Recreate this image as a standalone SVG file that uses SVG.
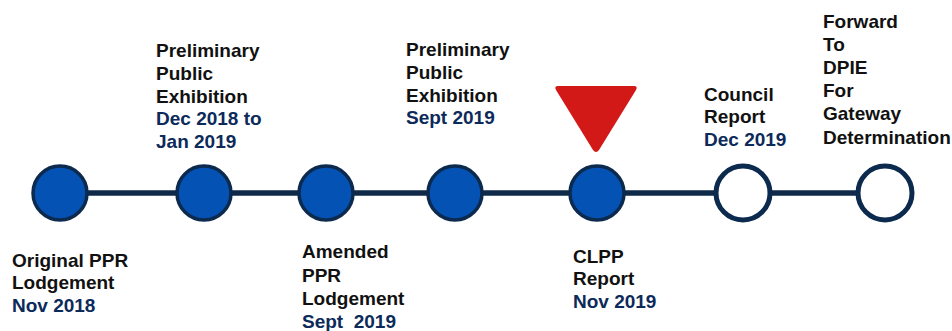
<svg xmlns="http://www.w3.org/2000/svg" width="952" height="331" viewBox="0 0 952 331">
<style>
  .t { font-family: "Liberation Sans", Arial, sans-serif; font-weight: bold; font-size: 19px; fill: #111111; }
  .d { fill: #0c2a5a; }
  .done { fill: #0552b5; stroke: #0c2a4e; stroke-width: 3.5; }
  .todo { fill: #ffffff; stroke: #0c2a4e; stroke-width: 5; }
  .line { stroke: #0f2a48; stroke-width: 5.5; fill: none; }
</style>
<rect width="952" height="331" fill="#ffffff"/>
<g id="connectors">
  <line class="line" x1="60" y1="193" x2="885" y2="193"/>
</g>
<g id="marker">
  <path d="M558,86 L634,86 Q638,86 636,90 L599,150 Q596,154 593,150 L556,90 Q554,86 558,86 Z" fill="#d31818"/>
</g>
<g id="n1">
  <circle class="done" cx="60" cy="193" r="27"/>
  <text class="t" x="12" y="267">Original PPR</text>
  <text class="t" x="12" y="289">Lodgement</text>
  <text class="t d" x="12" y="312">Nov 2018</text>
</g>
<g id="n2">
  <circle class="done" cx="204" cy="193" r="27"/>
  <text class="t" x="156" y="57">Preliminary</text>
  <text class="t" x="156" y="80">Public</text>
  <text class="t" x="156" y="103">Exhibition</text>
  <text class="t d" x="156" y="125">Dec 2018 to</text>
  <text class="t d" x="156" y="148">Jan 2019</text>
</g>
<g id="n3">
  <circle class="done" cx="326" cy="193" r="27"/>
  <text class="t" x="302" y="258">Amended</text>
  <text class="t" x="302" y="282">PPR</text>
  <text class="t" x="302" y="305">Lodgement</text>
  <text class="t d" x="302" y="328" xml:space="preserve">Sept  2019</text>
</g>
<g id="n4">
  <circle class="done" cx="455" cy="193" r="27"/>
  <text class="t" x="406" y="56">Preliminary</text>
  <text class="t" x="406" y="79">Public</text>
  <text class="t" x="406" y="102">Exhibition</text>
  <text class="t d" x="406" y="124">Sept 2019</text>
</g>
<g id="n5">
  <circle class="done" cx="597" cy="193" r="27"/>
  <text class="t" x="573" y="263">CLPP</text>
  <text class="t" x="573" y="285">Report</text>
  <text class="t d" x="573" y="308">Nov 2019</text>
</g>
<g id="n6">
  <circle class="todo" cx="743" cy="193" r="27"/>
  <text class="t" x="704" y="101">Council</text>
  <text class="t" x="704" y="123">Report</text>
  <text class="t d" x="704" y="146">Dec 2019</text>
</g>
<g id="n7">
  <circle class="todo" cx="885" cy="193" r="27"/>
  <text class="t" x="823" y="28">Forward</text>
  <text class="t" x="823" y="51">To</text>
  <text class="t" x="823" y="74">DPIE</text>
  <text class="t" x="823" y="97">For</text>
  <text class="t" x="823" y="120">Gateway</text>
  <text class="t" x="823" y="144">Determination</text>
</g>
</svg>
